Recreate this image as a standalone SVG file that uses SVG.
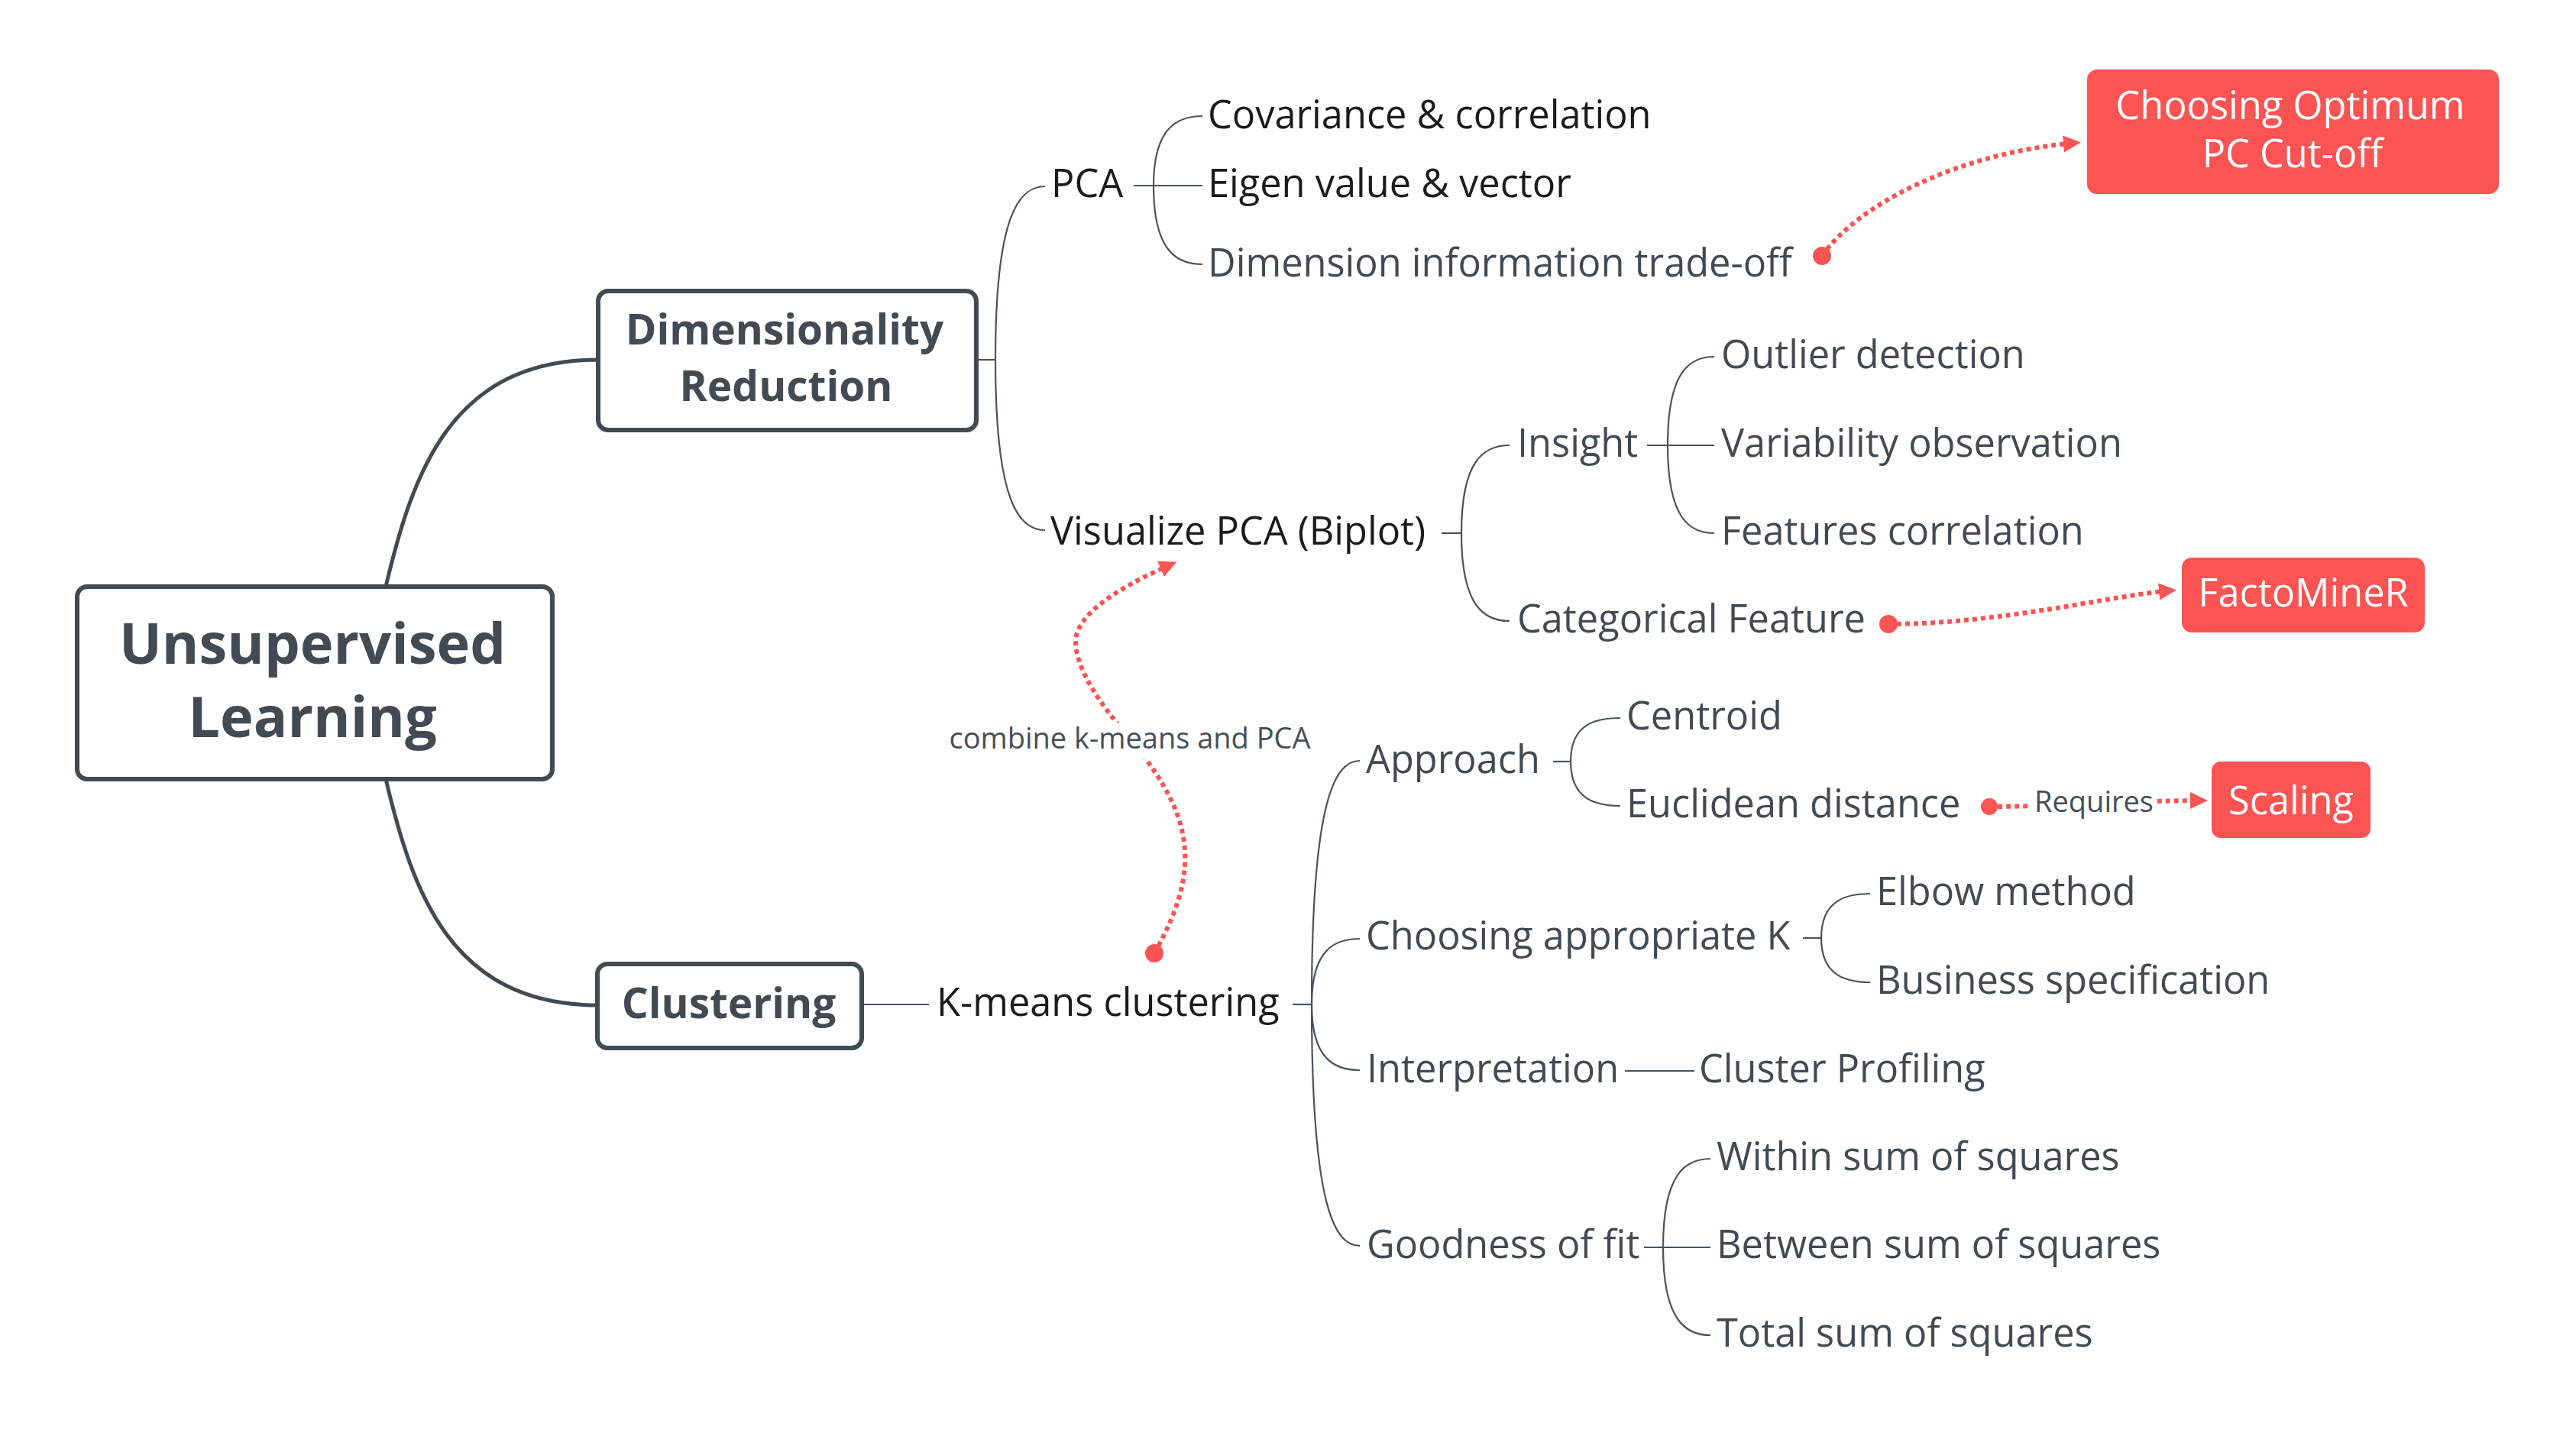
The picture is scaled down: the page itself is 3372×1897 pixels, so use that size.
<svg xmlns="http://www.w3.org/2000/svg" width="3372" height="1897" viewBox="0 0 3372 1897">
<defs>
<style>
.t{font-family:"Open Sans","Liberation Sans",sans-serif;font-size:50.5px;fill:#424a53}
.k{fill:#1b1b1b}
.b{font-weight:700}
.w{fill:#ffffff}
.m{text-anchor:middle}
.lbl{font-size:38px;fill:#464e58}
.ln{fill:none;stroke:#4b535d;stroke-width:2.2}
.main{fill:none;stroke:#424a53;stroke-width:5}
.rel{fill:none;stroke:#fc5353;stroke-width:6;stroke-dasharray:6 5}
.dot{fill:#fc5353}
.box{fill:#ffffff;stroke:#424a53;stroke-width:6}
.rbox{fill:#fc5353}
</style>
<marker id="arr" markerUnits="userSpaceOnUse" markerWidth="24" markerHeight="24" refX="17" refY="11" orient="auto">
<path d="M0,0 L23,11 L0,22 z" fill="#fc5353"/>
</marker>
</defs>
<rect width="3372" height="1897" fill="#ffffff"/>

<g id="connectors">
<path class="main" d="M505,768 C540,620 590,471 783,471"/>
<path class="main" d="M505,1020 C540,1168 590,1316 783,1316"/>
<path class="ln" d="M1278,471 H1303"/>
<path class="ln" d="M1303,471 C1303,278 1335,244 1368,244"/>
<path class="ln" d="M1303,471 C1303,661 1335,694 1368,694"/>
<path class="ln" d="M1484,243 H1574"/>
<path class="ln" d="M1510,243 C1510,166 1542,152 1574,152"/>
<path class="ln" d="M1510,243 C1510,331 1542,346 1574,346"/>
<path class="ln" d="M1887,698 H1913"/>
<path class="ln" d="M1913,698 C1913,600 1944,583 1976,583"/>
<path class="ln" d="M1913,698 C1913,796 1944,813 1976,813"/>
<path class="ln" d="M2156,583 H2244"/>
<path class="ln" d="M2183,583 C2183,484 2213,467 2244,467"/>
<path class="ln" d="M2183,583 C2183,681 2213,698 2244,698"/>
<path class="ln" d="M1128,1315 H1216"/>
<path class="ln" d="M1692,1315 H1717"/>
<path class="ln" d="M1717,1315 C1717,1044 1748,996 1780,996"/>
<path class="ln" d="M1717,1315 C1717,1242 1748,1229 1780,1229"/>
<path class="ln" d="M1717,1315 C1717,1388 1748,1401 1780,1401"/>
<path class="ln" d="M1717,1315 C1717,1584 1748,1631 1780,1631"/>
<path class="ln" d="M2033,997 H2056"/>
<path class="ln" d="M2056,997 C2056,948 2088,940 2121,940"/>
<path class="ln" d="M2056,997 C2056,1046 2088,1055 2121,1055"/>
<path class="ln" d="M2360,1228 H2384"/>
<path class="ln" d="M2384,1228 C2384,1179 2416,1170 2448,1170"/>
<path class="ln" d="M2384,1228 C2384,1277 2416,1286 2448,1286"/>
<path class="ln" d="M2127,1402 H2218"/>
<path class="ln" d="M2152,1633 H2239"/>
<path class="ln" d="M2177,1633 C2177,1534 2208,1517 2239,1517"/>
<path class="ln" d="M2177,1633 C2177,1731 2208,1748 2239,1748"/>

<path class="rel" d="M2385,335 C2430,270 2560,200 2718,187" marker-end="url(#arr)"/>
<circle class="dot" cx="2385" cy="335" r="12"/>
<path class="rel" d="M2472,817 C2620,817 2760,780 2843,773" marker-end="url(#arr)"/>
<circle class="dot" cx="2472" cy="817" r="12"/>
<path class="rel" d="M2604,1056 C2700,1056 2790,1048 2884,1048" marker-end="url(#arr)"/>
<circle class="dot" cx="2604" cy="1056" r="11"/>
<rect x="2658" y="1030" width="166" height="45" fill="#ffffff"/>
<text class="t lbl m" x="2741" y="1063">Requires</text>
<path class="rel" d="M1511,1248 C1581,1125 1555,1057 1470,956 C1440,921 1408,875 1408,840 C1408,800 1480,762 1535,738" marker-end="url(#arr)"/>
<circle class="dot" cx="1511" cy="1248" r="12"/>
<rect x="1230" y="946" width="498" height="48" fill="#ffffff"/>
<text class="t lbl m" x="1479" y="980">combine k-means and PCA</text>
</g>

<g id="root">
<rect class="box" x="101" y="768" width="622" height="252" rx="13"/>
<text class="t b m" x="409" y="869" style="font-size:74px">Unsupervised</text>
<text class="t b m" x="409" y="965" style="font-size:74px">Learning</text>
</g>
<g id="dimred">
<rect class="box" x="783" y="381" width="495" height="182" rx="13"/>
<text class="t b m" x="1027" y="451" style="font-size:55px">Dimensionality</text>
<text class="t b m" x="1029" y="525" style="font-size:55px">Reduction</text>
</g>
<g id="clustering">
<rect class="box" x="782" y="1262" width="346" height="110" rx="13"/>
<text class="t b m" x="954" y="1333" style="font-size:55px">Clustering</text>
</g>

<g id="pca"><text class="t k" x="1376" y="258">PCA</text></g>
<g id="cov"><text class="t k" x="1581" y="168">Covariance &amp; correlation</text></g>
<g id="eigen"><text class="t k" x="1581" y="258">Eigen value &amp; vector</text></g>
<g id="dimtrade"><text class="t" x="1581" y="362">Dimension information trade-off</text></g>
<g id="pccutoff">
<rect class="rbox" x="2732" y="91" width="539" height="163" rx="13"/>
<text class="t w m" x="2998" y="156">Choosing Optimum</text>
<text class="t w m" x="3001" y="219">PC Cut-off</text>
</g>
<g id="visualize"><text class="t k" x="1375" y="713">Visualize PCA (Biplot)</text></g>
<g id="insight"><text class="t" x="1986" y="598">Insight</text></g>
<g id="outlier"><text class="t" x="2253" y="482">Outlier detection</text></g>
<g id="variability"><text class="t" x="2253" y="598">Variability observation</text></g>
<g id="featcorr"><text class="t" x="2253" y="713">Features correlation</text></g>
<g id="categorical"><text class="t" x="1986" y="828">Categorical Feature</text></g>
<g id="factominer">
<rect class="rbox" x="2856" y="730" width="318" height="98" rx="13"/>
<text class="t w m" x="3015" y="794">FactoMineR</text>
</g>
<g id="kmeans"><text class="t k" x="1226" y="1330">K-means clustering</text></g>
<g id="approach"><text class="t" x="1788" y="1012">Approach</text></g>
<g id="centroid"><text class="t" x="2129" y="955">Centroid</text></g>
<g id="euclid"><text class="t" x="2129" y="1070">Euclidean distance</text></g>
<g id="scaling">
<rect class="rbox" x="2895" y="997" width="208" height="100" rx="12"/>
<text class="t w m" x="2999" y="1066">Scaling</text>
</g>
<g id="choosingk"><text class="t" x="1788" y="1243">Choosing appropriate K</text></g>
<g id="elbow"><text class="t" x="2456" y="1185">Elbow method</text></g>
<g id="business"><text class="t" x="2456" y="1301">Business specification</text></g>
<g id="interp"><text class="t" x="1789" y="1417">Interpretation</text></g>
<g id="profiling"><text class="t" x="2224" y="1417">Cluster Profiling</text></g>
<g id="goodness"><text class="t" x="1789" y="1647">Goodness of fit</text></g>
<g id="within"><text class="t" x="2247" y="1532">Within sum of squares</text></g>
<g id="between"><text class="t" x="2247" y="1647">Between sum of squares</text></g>
<g id="total"><text class="t" x="2247" y="1763">Total sum of squares</text></g>
</svg>
